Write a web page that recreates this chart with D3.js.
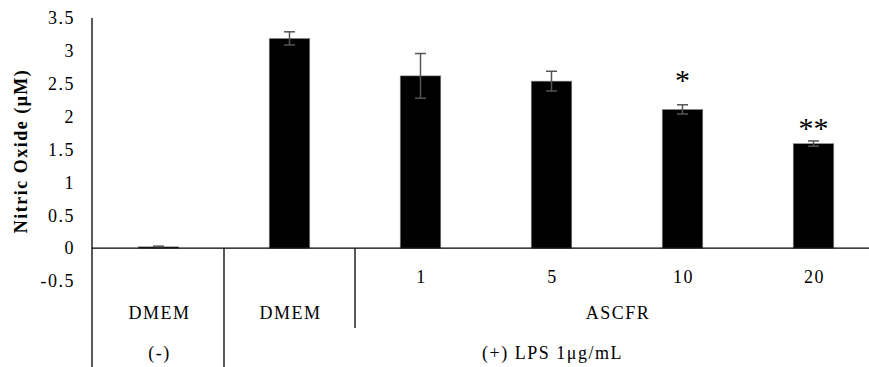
<!DOCTYPE html>
<html><head><meta charset="utf-8">
<script src="https://cdn.jsdelivr.net/npm/d3@7"></script>
<style>body{margin:0;background:#fff}</style>
</head><body>
<svg id="c" width="869" height="367"></svg>
<script>
const categories = ["DMEM-", "DMEM+", "1", "5", "10", "20"];
const values = [0.02, 3.19, 2.62, 2.54, 2.11, 1.59];
const errors = [0.01, 0.10, 0.34, 0.15, 0.07, 0.04];
const marks = ["", "", "", "", "*", "**"];
const markAt = [0, 0, 0, 0, 2.60, 1.87];
const yTicks = [-0.5, 0, 0.5, 1, 1.5, 2, 2.5, 3, 3.5];
const row1Labels = ["", "", "1", "5", "10", "20"];
const row2Groups = [{label: "DMEM", from: 0, to: 0}, {label: "DMEM", from: 1, to: 1}, {label: "ASCFR", from: 2, to: 5}];
const row3Groups = [{label: "(-)", from: 0, to: 0}, {label: "(+) LPS 1μg/mL", from: 1, to: 5}];

const svg = d3.select("#c");
const font = "'Liberation Serif', 'Times New Roman', serif";
const ls = "1.5px";
const x = d3.scaleBand().domain(categories).range([93, 879]).paddingInner(0.69).paddingOuter(0.345);
const y = d3.scaleLinear().domain([-0.5, 3.5]).range([281, 18]);
const bw = x.bandwidth();
const step = x.step();
const bandStart = i => x(categories[i]) - (step - bw) / 2;
const center = i => x(categories[i]) + bw / 2;

// y axis labels
svg.append("g").selectAll("text").data(yTicks).join("text")
  .attr("x", 75).attr("y", d => y(d)).attr("dy", "0.35em")
  .attr("text-anchor", "end").attr("font-family", font).attr("font-size", 18)
  .attr("letter-spacing", ls)
  .text(d => d);

svg.append("text").attr("transform", `translate(27,151) rotate(-90)`)
  .attr("text-anchor", "middle").attr("font-family", font).attr("font-size", 18)
  .attr("letter-spacing", ls)
  .attr("font-weight", "bold").text("Nitric Oxide (μM)");

// bars
svg.append("g").selectAll("rect").data(values).join("rect")
  .attr("x", (d, i) => x(categories[i])).attr("width", bw)
  .attr("y", d => y(Math.max(d, 0))).attr("height", d => Math.abs(y(d) - y(0)))
  .attr("fill", "#000").attr("stroke", "#999").attr("stroke-width", 0.6);

// error bars
const eg = svg.append("g").attr("stroke", "#555").attr("stroke-width", 1.5);
values.forEach((v, i) => {
  const cx = center(i);
  const e = errors[i];
  eg.append("line").attr("x1", cx).attr("x2", cx).attr("y1", y(v + e)).attr("y2", y(v - e));
  eg.append("line").attr("x1", cx - 5.5).attr("x2", cx + 5.5).attr("y1", y(v + e)).attr("y2", y(v + e));
  eg.append("line").attr("x1", cx - 5.5).attr("x2", cx + 5.5).attr("y1", y(v - e)).attr("y2", y(v - e));
});

// significance marks
svg.append("g").selectAll("text").data(values).join("text")
  .attr("x", (d, i) => center(i)).attr("y", (d, i) => y(markAt[i]))
  .attr("text-anchor", "middle").attr("font-family", font).attr("font-size", 30)
  .attr("dy", "0.42em").text((d, i) => marks[i]);

// axes lines
const axis = svg.append("g").attr("stroke", "#000").attr("stroke-width", 1.3);
axis.append("line").attr("x1", 92).attr("x2", 92).attr("y1", y(3.5)).attr("y2", 367);
axis.append("line").attr("x1", 92).attr("x2", 869).attr("y1", y(0)).attr("y2", y(0));
axis.append("line").attr("x1", bandStart(1)).attr("x2", bandStart(1)).attr("y1", y(0)).attr("y2", 367);
axis.append("line").attr("x1", bandStart(2)).attr("x2", bandStart(2)).attr("y1", y(0)).attr("y2", 328);

// category labels
const lab = svg.append("g").attr("font-family", font).attr("font-size", 18).attr("text-anchor", "middle").attr("letter-spacing", ls);
row1Labels.forEach((t, i) => { if (t) lab.append("text").attr("x", center(i) + 1).attr("y", 277).attr("dy", "0.35em").text(t); });
row2Groups.forEach(g => lab.append("text").attr("x", (center(g.from) + center(g.to)) / 2 + 1).attr("y", 313).attr("dy", "0.35em").text(g.label));
row3Groups.forEach(g => lab.append("text").attr("x", (center(g.from) + center(g.to)) / 2 + 1).attr("y", 353).attr("dy", "0.35em").text(g.label));
</script>
</body></html>
